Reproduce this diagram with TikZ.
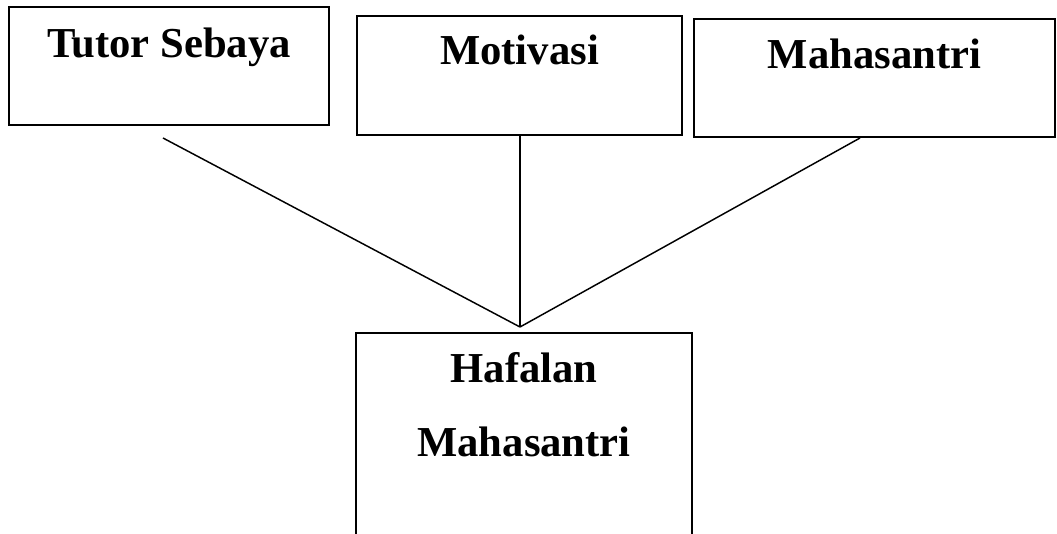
\documentclass[tikz,border=0pt]{standalone}
\usepackage{fontspec}
\setmainfont{Liberation Serif}
\usepackage{tikz}
\usetikzlibrary{positioning}

\begin{document}
\begin{tikzpicture}
[x=0.75pt, y=-0.75pt,
box/.style={draw=black, line width=1.5pt, inner sep=0pt, align=center, font=\fontsize{32}{55.5}\selectfont\bfseries},
link/.style={line width=1.1pt},]
    \useasboundingbox (0,0) rectangle (1057,534);
    \node (tutor) [box, minimum width=240pt, text height=38.25pt, text depth=50.25pt] at (169,66) {Tutor Sebaya};
    \node (motivasi) [box, minimum width=243.75pt, text height=36.75pt, text depth=52.5pt] at (519.5,75.5) {Motivasi};
    \node (mhs) [box, minimum width=270.75pt, text height=37.5pt, text depth=51pt] at (874.5,78) {Mahasantri};
    \node (hafalan) [box, minimum width=252pt, text height=93pt, text depth=72pt] at (524,443) {Hafalan\\Mahasantri};
    \coordinate (apex) at ([shift={(-4,-5)}]hafalan.north);
    \draw[link] ([shift={(-6,12)}]tutor.south) -- (apex);
    \draw[link] ([shift={(0.5,0)}]motivasi.south) -- (apex);
    \draw[link] ([shift={(-14.5,0)}]mhs.south) -- (apex);
\end{tikzpicture}
\end{document}
